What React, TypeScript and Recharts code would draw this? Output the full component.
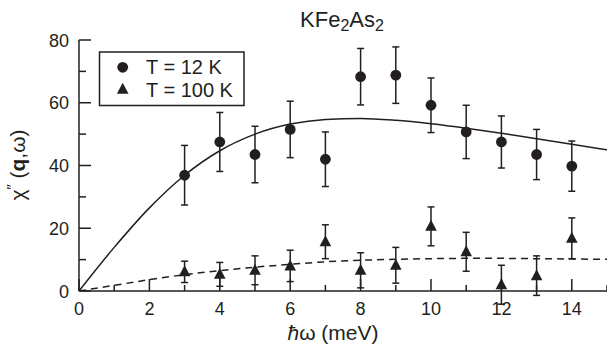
import { ComposedChart, Line, Scatter, ErrorBar, XAxis, YAxis } from "recharts";

// measured points, hbar*omega in meV
const energies = [3, 4, 5, 6, 7, 8, 9, 10, 11, 12, 13, 14];
const chi12K = [36.9, 47.5, 43.5, 51.5, 42.0, 68.3, 68.8, 59.2, 50.7, 47.5, 43.5, 39.8];
const err12K = [9.5, 9.4, 9.0, 9.0, 8.7, 9.0, 9.0, 8.7, 8.5, 8.3, 8.0, 8.0];
const chi100K = [6.1, 5.3, 6.6, 8.0, 15.7, 6.6, 8.2, 20.6, 12.5, 2.0, 4.9, 16.8];
const err100K = [3.4, 3.8, 4.6, 5.0, 5.4, 5.6, 5.7, 6.2, 6.2, 6.2, 6.3, 6.5];

// fit curves
const fitEnergies = [0, 1, 2, 3, 4, 5, 6, 7, 8, 9, 10, 11, 12, 13, 14, 15];
const fit12K = [0, 13.9, 26.5, 36.9, 44.7, 50.0, 53.2, 54.7, 55.0, 54.4, 53.3, 51.9, 50.3, 48.5, 46.8, 45.0];
const fit100K = [0, 1.8, 3.6, 5.2, 6.5, 7.6, 8.5, 9.3, 9.8, 10.1, 10.3, 10.4, 10.4, 10.3, 10.2, 10.1];

const xTicks = [0, 1, 2, 3, 4, 5, 6, 7, 8, 9, 10, 11, 12, 13, 14, 15];
const yTicks = [0, 10, 20, 30, 40, 50, 60, 70, 80];

const INK = "#231f20";
const FONT = "'Liberation Sans', Arial, Helvetica, sans-serif";

const lowData = energies.map((x, i) => ({ x, y: chi12K[i], e: err12K[i] }));
const highData = energies.map((x, i) => ({ x, y: chi100K[i], e: err100K[i] }));
const fitData = fitEnergies.map((x, i) => ({ x, s: fit12K[i], d: fit100K[i] }));

const BottomTick = (props: any) => {
  const { x, y, payload } = props;
  const major = payload.value % 2 === 0;
  return (
    <g>
      <line x1={x} x2={x} y1={y} y2={y - (major ? 12 : 6)} stroke={INK} strokeWidth={1.5} />
      {major && (
        <text x={x} y={y + 23.5} textAnchor="middle" fontSize={18} fontFamily={FONT} fill={INK}>
          {payload.value}
        </text>
      )}
    </g>
  );
};

const TopTick = (props: any) => {
  const { x, y } = props;
  return <line x1={x} x2={x} y1={y} y2={y + 8} stroke={INK} strokeWidth={1.5} />;
};

const LeftTick = (props: any) => {
  const { x, y, payload } = props;
  const major = payload.value % 20 === 0;
  return (
    <g>
      <line x1={x} x2={x + (major ? 12 : 7)} y1={y} y2={y} stroke={INK} strokeWidth={1.5} />
      {major && (
        <text x={x - 10} y={y + 6.5} textAnchor="end" fontSize={18} fontFamily={FONT} fill={INK}>
          {payload.value}
        </text>
      )}
    </g>
  );
};

const RightTick = (props: any) => {
  const { x, y, payload } = props;
  const major = payload.value % 20 === 0;
  return <line x1={x} x2={x - (major ? 12 : 7)} y1={y} y2={y} stroke={INK} strokeWidth={1.5} />;
};

const Dot = (props: any) => <circle cx={props.cx} cy={props.cy} r={5.4} fill={INK} />;

const Tri = (props: any) => {
  const { cx, cy } = props;
  return <polygon points={`${cx},${cy - 6.5} ${cx - 5.8},${cy + 4.5} ${cx + 5.8},${cy + 4.5}`} fill={INK} />;
};

export default function App() {
  return (
    <div style={{ position: "absolute", left: 0, top: 0, width: 607, height: 353, background: "#fff" }}>
      <ComposedChart width={607} height={353} margin={{ top: 40, right: 0, bottom: 0, left: 0 }}>
        <XAxis
          type="number"
          dataKey="x"
          domain={[0, 15]}
          ticks={xTicks}
          interval={0}
          allowDataOverflow
          height={62}
          tickSize={0}
          tickMargin={0}
          tickLine={false}
          axisLine={{ stroke: INK, strokeWidth: 1.5 }}
          tick={<BottomTick />}
        />
        <XAxis
          xAxisId="top"
          orientation="top"
          type="number"
          dataKey="x"
          domain={[0, 15]}
          ticks={xTicks}
          interval={0}
          allowDataOverflow
          height={0}
          tickSize={0}
          tickMargin={0}
          tickLine={false}
          axisLine={{ stroke: INK, strokeWidth: 1.5 }}
          tick={<TopTick />}
        />
        <YAxis
          type="number"
          domain={[0, 80]}
          ticks={yTicks}
          interval={0}
          allowDataOverflow
          width={79}
          tickSize={0}
          tickMargin={0}
          tickLine={false}
          axisLine={{ stroke: INK, strokeWidth: 1.5 }}
          tick={<LeftTick />}
        />
        <YAxis
          yAxisId="right"
          orientation="right"
          type="number"
          domain={[0, 80]}
          ticks={yTicks}
          interval={0}
          allowDataOverflow
          width={0}
          tickSize={0}
          tickMargin={0}
          tickLine={false}
          axisLine={{ stroke: INK, strokeWidth: 1.5 }}
          tick={<RightTick />}
        />
        <Line
          data={fitData}
          dataKey="s"
          type="monotone"
          stroke={INK}
          strokeWidth={1.5}
          dot={false}
          activeDot={false}
          isAnimationActive={false}
        />
        <Line
          data={fitData}
          dataKey="d"
          type="monotone"
          stroke={INK}
          strokeWidth={1.5}
          strokeDasharray="7 5"
          dot={false}
          activeDot={false}
          isAnimationActive={false}
        />
        <Scatter data={lowData} dataKey="y" shape={<Dot />} isAnimationActive={false}>
          <ErrorBar dataKey="e" direction="y" width={3.5} strokeWidth={1.5} stroke={INK} isAnimationActive={false} />
        </Scatter>
        <Scatter data={highData} dataKey="y" shape={<Tri />} isAnimationActive={false}>
          <ErrorBar dataKey="e" direction="y" width={3.5} strokeWidth={1.5} stroke={INK} isAnimationActive={false} />
        </Scatter>
      </ComposedChart>

      <svg
        width={607}
        height={353}
        style={{ position: "absolute", left: 0, top: 0, pointerEvents: "none" }}
        fontFamily={FONT}
        fill={INK}
      >
        <text x={342} y={27} textAnchor="middle" fontSize={22}>
          KFe<tspan fontSize={16} dy={4}>2</tspan>
          <tspan dy={-4}>As</tspan>
          <tspan fontSize={16} dy={4}>2</tspan>
        </text>
        <text x={333} y={340} textAnchor="middle" fontSize={21}>
          <tspan fontStyle="italic">ħ</tspan>ω (meV)
        </text>
        <text x={25} y={165} textAnchor="middle" fontSize={21} transform="rotate(-90 25 165)">
          χ<tspan fontSize={15} dy={-8}>″</tspan>
          <tspan dy={8}> (</tspan>
          <tspan fontWeight="bold">q</tspan>,ω)
        </text>

        <rect x={99.5} y={52} width={144.5} height={53.5} fill="#fff" stroke={INK} strokeWidth={1.5} />
        <circle cx={122.7} cy={67.3} r={5.4} />
        <text x={146} y={74} fontSize={20}>T = 12 K</text>
        <polygon points="122.7,82.8 116.9,93.8 128.5,93.8" />
        <text x={146} y={96.5} fontSize={20}>T = 100 K</text>
      </svg>
    </div>
  );
}
